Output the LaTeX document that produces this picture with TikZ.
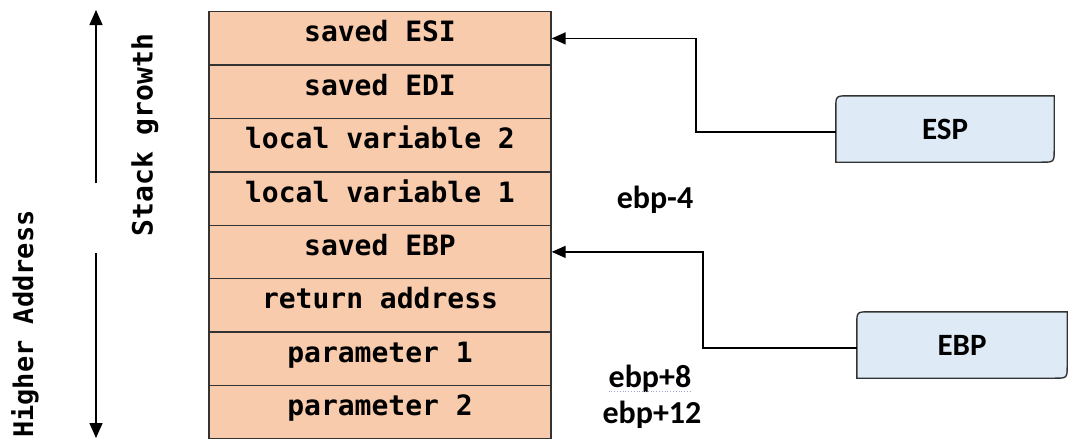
\documentclass[tikz,border=0pt]{standalone}
\usepackage{fontspec}
\newfontfamily\stackfont{DejaVu Sans Mono}
\newfontfamily\labelfont{Carlito}
\usetikzlibrary{arrows.meta,backgrounds}

\definecolor{slotfill}{HTML}{F8CBAD}
\definecolor{regfill}{HTML}{DEEBF7}
\definecolor{edge}{HTML}{333333}
\definecolor{squiggle}{HTML}{9AA6D8}

% box with the top-left and bottom-right corners rounded
\newcommand\cornerbox[1]{%
  \filldraw[fill=regfill,draw=edge,line width=1.4pt]
    ([yshift=-13pt]#1.north west) .. controls (#1.north west) .. ([xshift=13pt]#1.north west)
    -- (#1.north east)
    -- ([yshift=13pt]#1.south east) .. controls (#1.south east) .. ([xshift=-13pt]#1.south east)
    -- (#1.south west) -- cycle;}

\begin{document}
\begin{tikzpicture}[x=1pt,y=-1pt,
  slot/.style={draw=edge,fill=slotfill,line width=1.4pt,anchor=north,
    minimum width=342pt,minimum height=53.375pt,inner sep=0pt,
    text height=20pt,text depth=13pt,
    font=\stackfont\bfseries\fontsize{28}{30}\selectfont},
  reg/.style={inner sep=0pt,font=\labelfont\bfseries\fontsize{31}{34}\selectfont},
  offset/.style={anchor=base,inner sep=0pt,font=\labelfont\bfseries\fontsize{32}{34}\selectfont},
  side/.style={rotate=90,inner sep=0pt,font=\stackfont\bfseries\fontsize{28}{30}\selectfont},
  ptr/.style={line width=1.5pt,-{Triangle[length=14pt,width=12pt]}},
  dir/.style={line width=1.5pt,-{Triangle[length=15pt,width=13pt]}}]
\useasboundingbox (0,0) rectangle (1068,442);

% stack frame slots
\foreach \t [count=\i from 0] in {saved ESI,saved EDI,local variable 2,local variable 1,
    saved EBP,return address,parameter 1,parameter 2}
  \node[slot] (r\i) at (380,{11+\i*53.375}) {\t};

% registers
\node[reg,minimum width=218pt,minimum height=66pt] (esp) at (945,129) {ESP};
\node[reg,minimum width=210pt,minimum height=66pt] (ebp) at (962,345) {EBP};
\begin{scope}[on background layer]
  \cornerbox{esp}
  \cornerbox{ebp}
\end{scope}

% register pointers
\coordinate (espbend) at (696,0);
\coordinate (ebpbend) at (703,0);
\draw[ptr] ([yshift=-3pt]esp.west) -- ([yshift=-3pt]esp.west -| espbend) |- (r0.east);
\draw[ptr] ([yshift=-3pt]ebp.west) -- ([yshift=-3pt]ebp.west -| ebpbend) |- (r4.east);

% offsets from ebp
\node[offset] (om4) at (655,208) {ebp-4};
\node[offset] (op8) at (650,387) {ebp+8};
\node[offset] (op12) at (652,423) {ebp+12};
\draw[squiggle,line width=0.8pt,dotted] ([yshift=-4pt]op8.base west) -- ([yshift=-4pt]op8.base east);

% direction arrows
\coordinate (g0) at (96,183);
\coordinate (g1) at (96,10);
\coordinate (h0) at (96,253);
\coordinate (h1) at (96,438);
\draw[dir] (g0) -- (g1);
\draw[dir] (h0) -- (h1);
\node[side] (growth) at (145,135) {Stack growth};
\node[side,font=\stackfont\bfseries\fontsize{27}{30}\selectfont] (higher) at (25,324) {Higher Address};
\end{tikzpicture}
\end{document}
